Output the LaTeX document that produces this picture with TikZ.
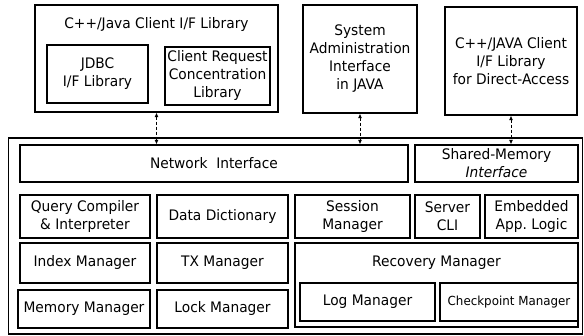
\documentclass[tikz,border=0pt]{standalone}
\usepackage{fontspec}
\setmainfont{DejaVu Sans}[FakeStretch=0.95]
\usetikzlibrary{arrows.meta}
\begin{document}
\begin{tikzpicture}[x=1pt,y=-1pt,
  box/.style={draw, line width=1.2pt, inner sep=0pt, align=center, font=\fontsize{14.5}{18}\selectfont},
  lbl/.style={inner sep=0pt, align=center, font=\fontsize{14.5}{18}\selectfont},
  arr/.style={line width=0.9pt, dash pattern=on 3pt off 2pt, {Latex[length=4.5pt,width=4pt]}-{Latex[length=4.5pt,width=4pt]}}]
\useasboundingbox (0,0) rectangle (584,336);
% top row
\node[box, minimum width=243pt, minimum height=107pt] (clib) at (156.5,58.5) {};
\node[lbl] (clibt) at (156.5,25) {C++/Java Client I/F Library};
\node[box, minimum width=101pt, minimum height=58pt] (jdbc) at (97.5,74) {JDBC\\I/F Library};
\node[box, minimum width=105pt, minimum height=58pt] (crcl) at (217.5,76) {Client Request\\Concentration\\Library};
\node[box, minimum width=114pt, minimum height=108pt] (sadm) at (360,59) {System\\Administration\\Interface\\in JAVA};
\node[box, minimum width=132pt, minimum height=108pt] (dlib) at (511,61) {C++/JAVA Client\\I/F Library\\for Direct-Access};
% server
\node[box, minimum width=574pt, minimum height=196pt] (outer) at (295.5,236) {};
\node[box, minimum width=388pt, minimum height=37pt] (net) at (214,163.5) {Network\ \ Interface};
\node[box, minimum width=163pt, minimum height=37pt] (shm) at (496.5,163.5) {Shared-Memory\\\textit{Interface}};
\node[box, minimum width=130pt, minimum height=43pt] (qc) at (85,216.5) {Query Compiler\\\& Interpreter};
\node[box, minimum width=131pt, minimum height=43pt] (dd) at (222.5,216.5) {Data Dictionary};
\node[box, minimum width=115pt, minimum height=43pt] (sess) at (352.5,216.5) {Session\\Manager};
\node[box, minimum width=65pt, minimum height=43pt] (cli) at (447.5,216.5) {Server\\CLI};
\node[box, minimum width=93pt, minimum height=43pt] (emb) at (531.5,216.5) {Embedded\\App.\ Logic};
\node[box, minimum width=130pt, minimum height=40pt] (idx) at (85,263) {Index Manager};
\node[box, minimum width=131pt, minimum height=40pt] (tx) at (222.5,263) {TX Manager};
\node[box, minimum width=283pt, minimum height=84pt] (rec) at (436.5,285) {};
\node[lbl] (rect) at (436.5,263) {Recovery Manager};
\node[box, minimum width=132pt, minimum height=38pt] (mem) at (84,309) {Memory Manager};
\node[box, minimum width=131pt, minimum height=38pt] (lock) at (222.5,309) {Lock Manager};
\node[box, minimum width=135pt, minimum height=38pt] (log) at (367.5,302) {Log Manager};
\node[box, minimum width=138pt, minimum height=38pt, font=\fontsize{12.5}{14}\selectfont] (ckpt) at (509,302) {Checkpoint Manager};
% connectors
\draw[arr] (clib.south) -- (clib.south |- net.north);
\draw[arr] (sadm.south) -- (sadm.south |- net.north);
\draw[arr] (dlib.south) -- (dlib.south |- shm.north);
\end{tikzpicture}
\end{document}
